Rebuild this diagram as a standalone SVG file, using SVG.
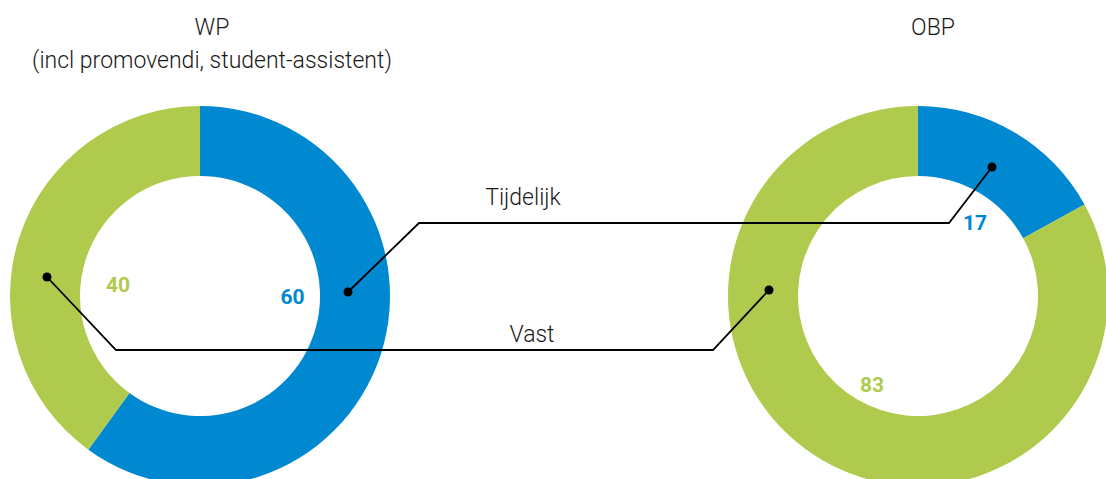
<svg xmlns="http://www.w3.org/2000/svg" width="1106" height="479" viewBox="0 0 1106 479">
<style>
.blue{fill:#0089d0}
.green{fill:#afca4c}
.lbl{font-family:Roboto,"Liberation Sans",sans-serif;font-weight:300;font-size:23px;fill:#1a1a1a;text-anchor:middle}
.num{font-family:Roboto,"Liberation Sans",sans-serif;font-weight:700;font-size:21px;text-anchor:middle}
.ln{fill:none;stroke:#000;stroke-width:1.8}
.dot{fill:#000}
</style>
<rect width="1106" height="479" fill="#fff"/>
<g id="wp">
<path class="blue" d="M200,106 A190,190 0 1 1 88.32,449.71 L129.47,393.08 A120,120 0 1 0 200,176 Z"/>
<path class="green" d="M88.32,449.71 A190,190 0 0 1 200,106 L200,176 A120,120 0 0 0 129.47,393.08 Z"/>
<text class="lbl" x="212" y="35">WP</text>
<text class="lbl" x="212" y="68">(incl promovendi, student-assistent)</text>
<text class="num" x="118" y="292" fill="#afca4c">40</text>
<text class="num" x="292.5" y="304" fill="#0089d0">60</text>
</g>
<g id="obp">
<path class="blue" d="M918,106 A190,190 0 0 1 1084.5,204.46 L1023.16,238.18 A120,120 0 0 0 918,176 Z"/>
<path class="green" d="M1084.5,204.46 A190,190 0 1 1 918,106 L918,176 A120,120 0 1 0 1023.16,238.18 Z"/>
<text class="lbl" x="933" y="35">OBP</text>
<text class="num" x="975" y="230" fill="#0089d0">17</text>
<text class="num" x="872" y="392" fill="#afca4c">83</text>
</g>
<g id="connectors">
<polyline class="ln" points="348,292 419,223 949,223 992,167"/>
<circle class="dot" cx="348" cy="292" r="4.5"/>
<circle class="dot" cx="992" cy="167" r="4.5"/>
<text class="lbl" x="523" y="205">Tijdelijk</text>
<polyline class="ln" points="47,277 116,350 713,350 769,290"/>
<circle class="dot" cx="47" cy="277" r="4.5"/>
<circle class="dot" cx="769" cy="290" r="4.5"/>
<text class="lbl" x="532" y="342">Vast</text>
</g>
</svg>
